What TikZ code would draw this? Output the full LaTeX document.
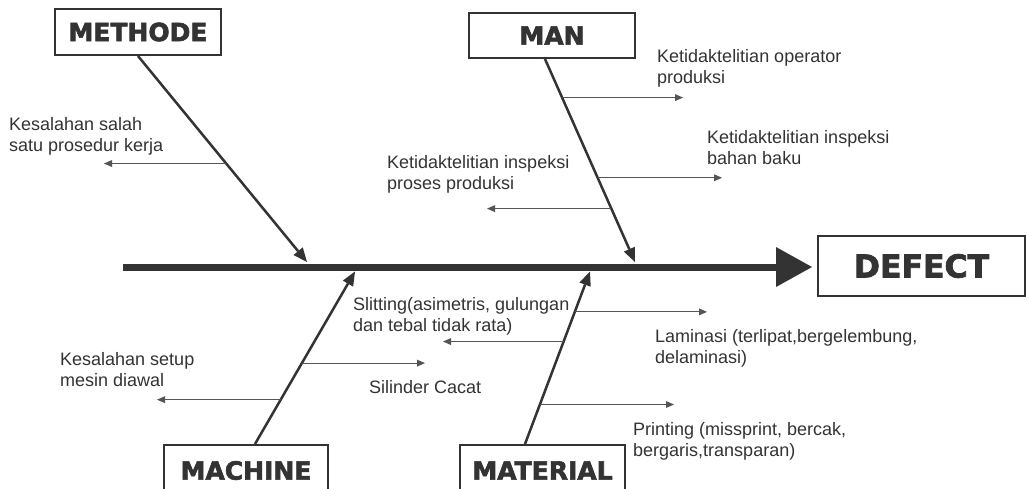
\documentclass[tikz,border=0pt]{standalone}
\usepackage{fontspec}
\setmainfont{Liberation Sans}
\newfontfamily\heavy{DejaVu Sans}[FakeBold=2.5]
\usetikzlibrary{arrows.meta,calc}
\definecolor{ink}{HTML}{333333}
\definecolor{thin}{HTML}{555555}
\begin{document}
\begin{tikzpicture}[x=1pt,y=-1pt,
 catbox/.style={draw=ink,line width=2pt,inner sep=0pt,text=ink,font=\heavy\bfseries\fontsize{25}{30}\selectfont},
 lbl/.style={anchor=north west,inner sep=0pt,align=left,text=ink,font=\fontsize{18}{21.5}\selectfont},
 bone/.style={draw=ink,line width=2.5pt,-{Triangle[length=14pt,width=12pt,line width=0pt]}},
 sub/.style={draw=thin,line width=1pt,-{Triangle[length=8pt,width=7pt,line width=0pt]}},
 spine/.style={draw=ink,line width=7pt,-{Triangle[length=36pt,width=40pt,line width=0pt]}},
]
\useasboundingbox (0,0) rectangle (1027,488);
\fill[white] (0,0) rectangle (1027,488);
\clip (0,0) rectangle (1027,488);

% category boxes
\node[catbox,minimum width=166pt,minimum height=46pt] (methode) at (138,32) {METHODE};
\node[catbox,minimum width=166pt,minimum height=45pt] (man) at (552,35.5) {MAN};
\node[catbox,minimum width=164pt,minimum height=51pt] (machine) at (246,470.5) {MACHINE};
\node[catbox,minimum width=165pt,minimum height=51pt] (material) at (542.5,470.5) {MATERIAL};
\node[catbox,minimum width=207pt,minimum height=60pt,font=\heavy\bfseries\fontsize{31.5}{36}\selectfont] (defect) at (921.5,266) {DEFECT};

% spine
\coordinate (tail) at (123,267);
\draw[spine,shorten >=5pt] (tail) -- (tail -| defect.west);

% tips of the bones on the spine
\coordinate (tmethode) at (307,262);
\coordinate (tman) at (635,262);
\coordinate (tmachine) at (355,271.5);
\coordinate (tmaterial) at (590,271.5);

% bones with points for the sub causes
\draw[bone] (methode.south) -- (tmethode)
  coordinate[pos=0.522] (m1);
\draw[bone] ([xshift=-7pt]man.south) -- (tman)
  coordinate[pos=0.19] (n1) coordinate[pos=0.585] (n2) coordinate[pos=0.737] (n3);
\draw[bone] ([xshift=9pt]machine.north) -- (tmachine)
  coordinate[pos=0.257] (c1) coordinate[pos=0.469] (c2);
\draw[bone] ([xshift=-17.5pt]material.north) -- (tmaterial)
  coordinate[pos=0.766] (a1) coordinate[pos=0.594] (a2) coordinate[pos=0.229] (a3);

% sub-cause arrow ends
\coordinate (em1) at (104,0);
\coordinate (en1) at (683,0);
\coordinate (en2) at (722,0);
\coordinate (en3) at (487,0);
\coordinate (ec1) at (157,0);
\coordinate (ec2) at (425,0);
\coordinate (ea1) at (707,0);
\coordinate (ea2) at (443,0);
\coordinate (ea3) at (674,0);

\draw[sub] (m1) -- (m1 -| em1);
\draw[sub] (n1) -- (n1 -| en1);
\draw[sub] (n2) -- (n2 -| en2);
\draw[sub] (n3) -- (n3 -| en3);
\draw[sub] (c1) -- (c1 -| ec1);
\draw[sub] (c2) -- (c2 -| ec2);
\draw[sub] (a1) -- (a1 -| ea1);
\draw[sub] (a2) -- (a2 -| ea2);
\draw[sub] (a3) -- (a3 -| ea3);

% labels
\node[lbl] (l1) at (9,117) {Kesalahan salah\\satu prosedur kerja};
\node[lbl] (l2) at (657,49) {Ketidaktelitian operator\\produksi};
\node[lbl] (l3) at (707,130) {Ketidaktelitian inspeksi\\bahan baku};
\node[lbl] (l4) at (387,155) {Ketidaktelitian inspeksi\\proses produksi};
\node[lbl] (l5) at (60,352) {Kesalahan setup\\mesin diawal};
\node[lbl] (l6) at (369,380) {Silinder Cacat};
\node[lbl] (l7) at (353,297) {Slitting(asimetris, gulungan\\dan tebal tidak rata)};
\node[lbl] (l8) at (655,329) {Laminasi (terlipat,bergelembung,\\delaminasi)};
\node[lbl] (l9) at (633,422) {Printing (missprint, bercak,\\bergaris,transparan)};
\end{tikzpicture}
\end{document}
